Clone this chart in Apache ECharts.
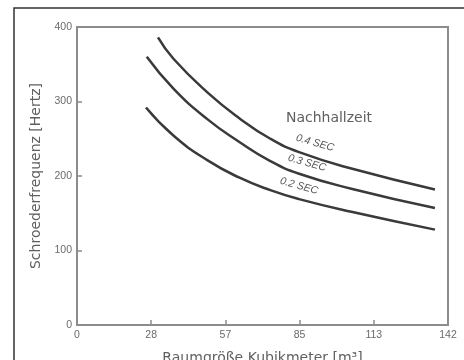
<!DOCTYPE html>
<html>
<head>
<meta charset="utf-8">
<script src="https://cdn.jsdelivr.net/npm/echarts@6/dist/echarts.min.js"></script>
<style>
html,body{margin:0;padding:0;background:#fff;}
#c{width:464px;height:360px;}
</style>
</head>
<body>
<div id="c"></div>
<script>
// Data
const xTickLabels = ['0', '28', '57', '85', '113', '142'];
const yTickLabels = ['0', '100', '200', '300', '400'];
const seriesNames = ['0.4 SEC', '0.3 SEC', '0.2 SEC'];
const vol04 = [31, 37, 50, 62, 74, 85, 105, 137];
const freq04 = [386, 357, 312, 278, 250, 232, 210, 182];
const vol03 = [26.7, 37, 50, 62, 74, 85, 105, 137];
const freq03 = [360, 317, 276, 246, 220, 203, 183, 157];
const vol02 = [26.4, 37, 50, 62, 74, 85, 105, 137];
const freq02 = [292, 254, 221, 198, 181, 169, 152, 128];

const pairs = (xs, ys) => xs.map((x, i) => [x, ys[i]]);
const curves = [pairs(vol04, freq04), pairs(vol03, freq03), pairs(vol02, freq02)];

const chart = echarts.init(document.getElementById('c'), null, {renderer: 'canvas'});
const axisGray = '#8c8c8c';
const labelGray = '#6a6a6a';
const xInterval = 142 / 5;

chart.setOption({
  animation: false,
  backgroundColor: '#fff',
  grid: {left: 77, top: 27, right: 16, bottom: 35, containLabel: false, outerBoundsMode: 'none', show: true, borderColor: axisGray, borderWidth: 2, backgroundColor: 'transparent'},
  xAxis: {
    type: 'value', min: 0, max: 142, interval: xInterval,
    name: 'Raumgröße Kubikmeter [m³]', nameLocation: 'middle', nameGap: 26,
    nameTextStyle: {fontFamily: 'DejaVu Sans', fontSize: 14, color: '#606060'},
    axisLine: {show: true, lineStyle: {color: axisGray, width: 2}},
    axisTick: {show: true, inside: true, length: 5, lineStyle: {color: axisGray, width: 1.5}},
    splitLine: {show: false},
    axisLabel: {
      margin: 5, color: labelGray, fontFamily: 'Liberation Sans', fontSize: 10.5,
      formatter: v => xTickLabels[Math.round(v / xInterval)] || ''
    }
  },
  yAxis: {
    type: 'value', min: 0, max: 400, interval: 100,
    name: 'Schroederfrequenz [Hertz]', nameLocation: 'middle', nameGap: 31,
    nameTextStyle: {fontFamily: 'DejaVu Sans', fontSize: 14, color: '#606060'},
    axisLine: {show: true, lineStyle: {color: axisGray, width: 2}},
    axisTick: {show: true, inside: true, length: 5, lineStyle: {color: axisGray, width: 1.5}},
    splitLine: {show: false},
    axisLabel: {
      margin: 5, color: labelGray, fontFamily: 'Liberation Sans', fontSize: 10.5,
      formatter: v => yTickLabels[Math.round(v / 100)]
    }
  },
  series: curves.map((d, i) => ({
    name: seriesNames[i], type: 'line', data: d, smooth: true,
    showSymbol: false, symbol: 'none',
    lineStyle: {color: '#3a3a3a', width: 2.5}
  })),
  graphic: [
    {type: 'rect', shape: {x: 14, y: 8, width: 480, height: 380}, style: {fill: 'none', stroke: '#333', lineWidth: 1.5}, silent: true},
    {type: 'text', x: 329, y: 118, style: {text: 'Nachhallzeit', textAlign: 'center', textVerticalAlign: 'middle', fontFamily: 'DejaVu Sans', fontSize: 14, fill: '#606060'}},
    {type: 'text', x: 315, y: 143, rotation: -0.27, style: {text: seriesNames[0], textAlign: 'center', textVerticalAlign: 'middle', fontFamily: 'Liberation Sans', fontStyle: 'italic', fontSize: 10.5, fill: '#555'}},
    {type: 'text', x: 307, y: 163, rotation: -0.27, style: {text: seriesNames[1], textAlign: 'center', textVerticalAlign: 'middle', fontFamily: 'Liberation Sans', fontStyle: 'italic', fontSize: 10.5, fill: '#555'}},
    {type: 'text', x: 299, y: 186, rotation: -0.27, style: {text: seriesNames[2], textAlign: 'center', textVerticalAlign: 'middle', fontFamily: 'Liberation Sans', fontStyle: 'italic', fontSize: 10.5, fill: '#555'}}
  ]
});
</script>
</body>
</html>
